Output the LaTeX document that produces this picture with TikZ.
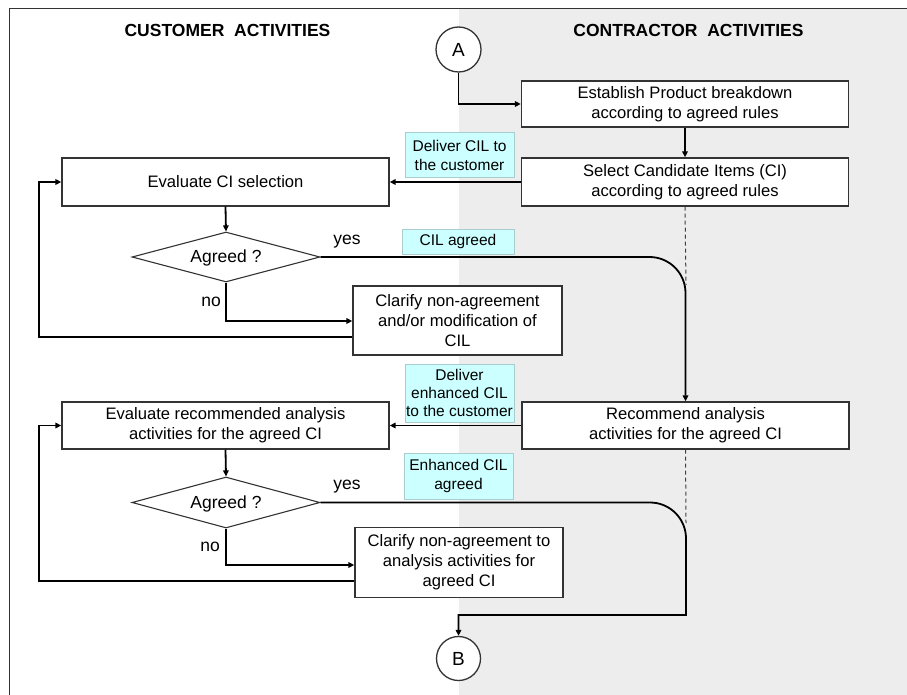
\documentclass[tikz,border=0pt]{standalone}
\usepackage{fontspec}
\setmainfont{Liberation Sans}
\usetikzlibrary{arrows.meta,shapes.geometric}
\definecolor{lanegray}{HTML}{EDEDED}
\definecolor{notefill}{HTML}{CCFFFF}
\definecolor{notedraw}{HTML}{A9CDCD}
\definecolor{boxline}{HTML}{333333}
\tikzset{
  stepbox/.style={draw=boxline, line width=1.3pt, fill=white, align=center,
    inner sep=0pt, font=\fontsize{16.6}{20}\selectfont},
  decision/.style={draw=boxline, line width=1.1pt, fill=white, inner sep=0pt,
    shape=diamond},
  note/.style={draw=notedraw, line width=1pt, fill=notefill, align=center,
    inner sep=0pt, font=\fontsize{15.5}{18.3}\selectfont},
  flow/.style={line width=1.8pt, -{Triangle[length=6pt,width=5.5pt]}},
  link/.style={dash pattern=on 4pt off 3pt, line width=1pt, draw=black!75},
  answer/.style={font=\fontsize{17.5}{20}\selectfont},
  lanehead/.style={font=\fontsize{17.5}{20}\selectfont\bfseries},
  terminal/.style={circle, draw=boxline, line width=1.3pt, fill=white,
    inner sep=0pt, font=\fontsize{19}{20}\selectfont},
}
\begin{document}
\begin{tikzpicture}[x=1pt, y=-1pt]
\useasboundingbox (0,0) rectangle (907,695);
% swim lanes
\fill[white] (0,0) rectangle (907,695);
\fill[lanegray] (459,9) rectangle (907,695);
\draw[line width=1pt, black!80] (9,695) -- (9,9) -- (907,9);
\node[lanehead] (hcust) at (227.5,30) {CUSTOMER\ \ ACTIVITIES};
\node[lanehead] (hcont) at (688.5,30) {CONTRACTOR\ \ ACTIVITIES};

% connector A and contractor steps
\node[terminal, minimum size=45pt] (A) at (458.5,49.5) {A};
\node[stepbox, minimum width=327pt, minimum height=46pt] (est) at (685,104)
  {Establish Product breakdown\\according to agreed rules};
\node[stepbox, minimum width=327pt, minimum height=48pt] (sel) at (685,182)
  {Select Candidate Items (CI)\\according to agreed rules};

% customer first review loop
\node[stepbox, minimum width=327pt, minimum height=48pt] (eval1) at (225.5,182)
  {Evaluate CI selection};
\node[decision, minimum width=188pt, minimum height=50pt] (dia1) at (226,257) {};
\node[answer] (dia1t) at (226,258) {Agreed ?};
\node[stepbox, minimum width=209pt, minimum height=69pt] (clar1) at (457.5,320.5)
  {Clarify non-agreement\\and/or modification of\\CIL};

% notes on the exchanges
\node[note, minimum width=109pt, minimum height=45pt] (n1) at (459.5,155.5)
  {Deliver CIL to\\the customer};
\node[note, minimum width=112pt, minimum height=25pt] (n2) at (458,241.5)
  {CIL agreed};
\node[note, minimum width=109pt, minimum height=58pt] (n3) at (459.5,393)
  {Deliver\\enhanced CIL\\to the customer};
\node[note, minimum width=109pt, minimum height=46pt] (n4) at (458.5,476)
  {Enhanced CIL\\agreed};

% analysis recommendation and second review loop
\node[stepbox, minimum width=327pt, minimum height=47pt] (rec) at (685.5,425.5)
  {Recommend analysis\\activities for the agreed CI};
\node[stepbox, minimum width=327pt, minimum height=47pt] (eval2) at (225.5,425.5)
  {Evaluate recommended analysis\\activities for the agreed CI};
\node[decision, minimum width=188pt, minimum height=51pt] (dia2) at (226,502.5) {};
\node[answer] (dia2t) at (226,503.5) {Agreed ?};
\node[stepbox, minimum width=208pt, minimum height=70pt] (clar2) at (459,562.5)
  {Clarify non-agreement to\\analysis activities for\\agreed CI};
\node[terminal, minimum size=44pt] (B) at (458.5,658.5) {B};

% answer labels
\node[answer] (yes1) at (347,242) {yes};
\node[answer] (no1) at (211,302) {no};
\node[answer] (yes2) at (347,487) {yes};
\node[answer] (no2) at (210,547) {no};

% helper points
\coordinate (j1) at (686,285);
\coordinate (j2) at (686,523);
\coordinate (b1) at (686,615);

% connectors
\draw[flow] (A.south) |- (est.west);
\draw[flow] (est.south) -- (sel.north);
\draw[flow] (sel.west) -- (eval1.east);
\draw[flow] (eval1.south) -- (dia1.north);
\draw[flow] (dia1.south) |- (clar1.west|-0,321);
\draw[flow] (clar1.west|-0,337) -- (39,337) |- (eval1.west);
\draw[flow, rounded corners=36pt] (dia1.east) -| (rec.north);
\draw[link] (sel.south) -- (j1);

\draw[flow] (rec.west) -- (eval2.east);
\draw[flow] (eval2.south) -- (dia2.north);
\draw[flow] (dia2.south) |- (clar2.west|-0,565);
\draw[flow] (clar2.west|-0,581) -- (39,581) |- (eval2.west);
\draw[link] (rec.south) -- (j2);
\draw[flow] (dia2.east) -- (650,502.5)
  .. controls (669.9,502.5) and (686,518.6) .. (686,538.5)
  -- (b1) -- (B.north|-b1) -- (B.north);
\end{tikzpicture}
\end{document}
